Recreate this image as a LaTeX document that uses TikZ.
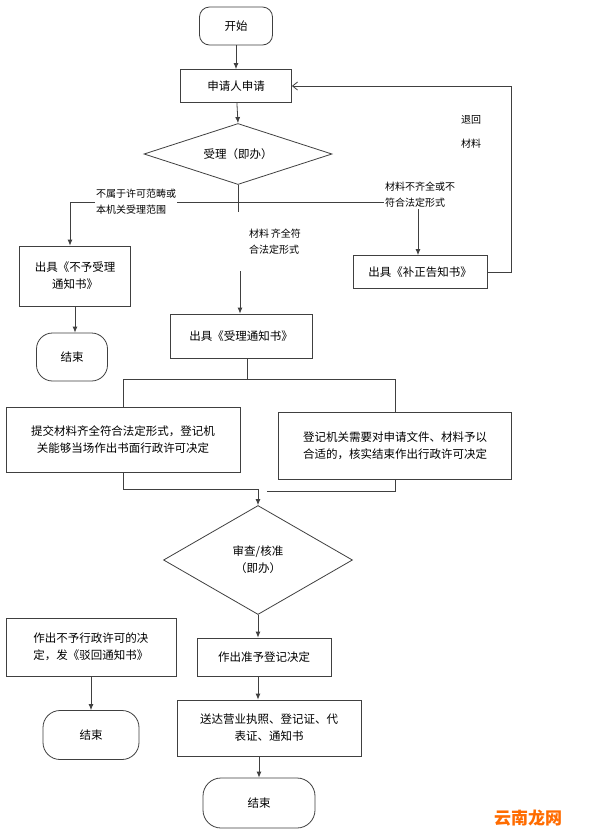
\documentclass[tikz,border=0pt]{standalone}
\usepackage{fontspec}
\setmainfont{Noto Sans CJK SC}
\usetikzlibrary{shapes.geometric,arrows.meta}
\begin{document}
\begin{tikzpicture}[x=1pt,y=-1pt,font=\fontsize{11.5}{17}\selectfont,
  line/.style={draw=black!75,line width=0.8pt},
  arr/.style={line,-{Latex[length=6pt,width=5pt]}},
  box/.style={line,rectangle,align=center,inner sep=0pt},
  term/.style={line,rectangle,rounded corners=10pt,align=center,inner sep=0pt},
  dia/.style={line,diamond,aspect=3,align=center,inner sep=0pt},
  lab/.style={fill=white,align=left,inner sep=1pt,font=\fontsize{10}{16}\selectfont}]
\useasboundingbox (0,0) rectangle (609,839);
\fill[white] (0,0) rectangle (609,839);
\node[term,minimum width=73pt,minimum height=38pt] (start) at (236,26) {开始};
\node[box,minimum width=111pt,minimum height=33pt] (apply) at (236,86) {申请人申请};
\node[dia,minimum width=188pt,minimum height=61pt] (d1) at (238,154) {受理（即办）};
\node[box,minimum width=111pt,minimum height=60pt] (rej) at (75,276) {出具《不予受理\\通知书》};
\node[term,minimum width=71pt,minimum height=48pt,rounded corners=16pt] (end1) at (72,357) {结束};
\node[box,minimum width=134pt,minimum height=33pt] (fix) at (420,272) {出具《补正告知书》};
\node[box,minimum width=142pt,minimum height=44pt] (acc) at (241,336) {出具《受理通知书》};
\node[box,minimum width=234pt,minimum height=65pt] (l) at (123,440) {提交材料齐全符合法定形式，登记机\\关能够当场作出书面行政许可决定};
\node[box,minimum width=233pt,minimum height=67pt] (r) at (395,446) {登记机关需要对申请文件、材料予以\\合适的，核实结束作出行政许可决定};
\node[dia,minimum width=189pt,minimum height=109pt,aspect=1.7] (d2) at (258,560) {审查/核准\\（即办）};
\node[box,minimum width=134pt,minimum height=38pt] (ok) at (264,657) {作出准予登记决定};
\node[box,minimum width=184pt,minimum height=56pt] (send) at (269,728) {送达营业执照、登记证、代\\表证、通知书};
\node[term,minimum width=112pt,minimum height=50pt,rounded corners=18pt] (end3) at (259,803) {结束};
\node[box,minimum width=170pt,minimum height=58pt] (no) at (91,647) {作出不予行政许可的决\\定，发《驳回通知书》};
\node[term,minimum width=96pt,minimum height=49pt,rounded corners=17pt] (end2) at (91,735) {结束};

\coordinate (jl) at (70,202);
\coordinate (jr) at (418,202);
\draw[arr] (start) -- (apply);
\draw[arr] (apply) -- (d1.north);
\draw[line] (d1.south) -- (238,212);
\draw[line] (jl) -- (jr);
\draw[arr] (jl) -- (rej.north -| jl);
\draw[arr] (jr) -- (fix.north -| jr);
\node[lab] (t1) at (136,202) {不属于许可范畴或\\本机关受理范围};
\node[lab] (t2) at (420,195) {材料不齐全或不\\符合法定形式};
\node[lab,fill=none] (t3) at (275,242) {材料\,齐全符\\合法定形式};
\draw[arr] (240,271) -- (acc.north -| 240,0);
\draw[arr] (rej) -- (end1.north -| rej);
\draw[line,-{Straight Barb[length=5pt,width=8pt]}] (fix.east) -- (511,272) -- (511,86) -- (apply.east);
\node[align=left,font=\fontsize{10}{24}\selectfont] (t4) at (471,132) {退回\\材料};
\draw[line] (acc.south -| 247,0) -- (247,379);
\draw[line] (123,379) -- (395,379);
\draw[line] (123,379) -- (l.north -| 123,0);
\draw[line] (395,379) -- (r.north -| 395,0);
\draw[line] (l.south -| 123,0) -- (123,489) -- (258,489);
\draw[line] (r.south -| 395,0) -- (395,491) -- (267,491);
\draw[arr] (258,489) -- (d2.north);
\draw[arr] (d2.south) -- (ok.north -| d2.south);
\draw[arr] (ok.south -| 258,0) -- (send.north -| 258,0);
\draw[arr] (send.south -| 259,0) -- (end3.north);
\draw[arr] (no) -- (end2);
\node[text=orange!85!red,font=\bfseries\fontsize{17}{20}\selectfont] (wm) at (528,818) {云南龙网};
\end{tikzpicture}
\end{document}
